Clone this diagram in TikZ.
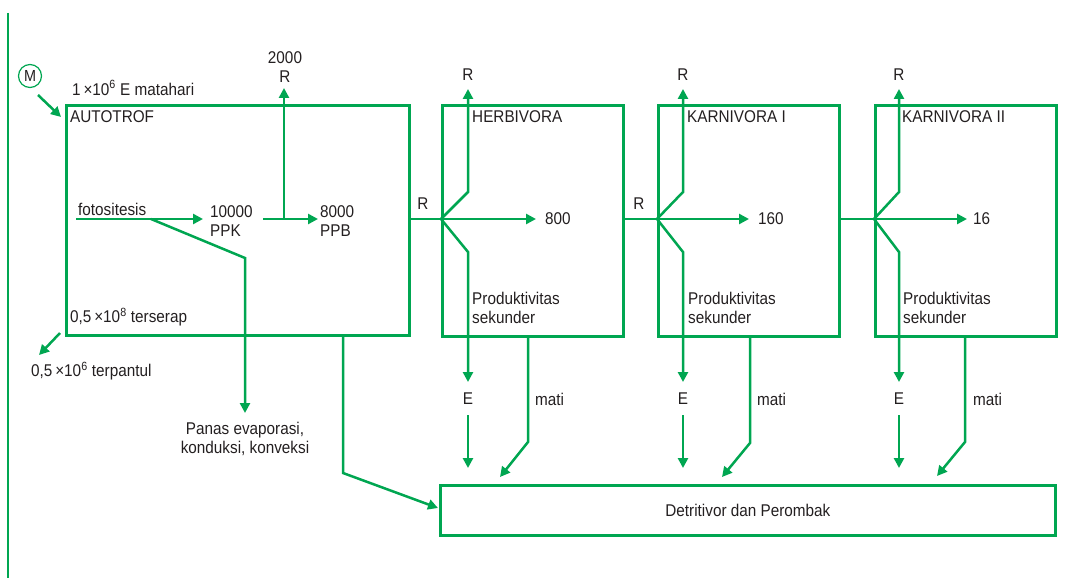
\documentclass[tikz,border=0pt]{standalone}
\usepackage{fontspec}
\setmainfont[FakeStretch=0.9]{Liberation Sans}
\usetikzlibrary{arrows.meta}
\definecolor{eg}{RGB}{0,166,81}
\definecolor{tx}{RGB}{35,31,32}
\begin{document}
\begin{tikzpicture}[x=1pt,y=-1pt,
  ln/.style={draw=eg, line width=2.5pt},
  arr/.style={ln, -{Triangle[length=10pt,width=10pt]}},
  box/.style={draw=eg, line width=2.8pt, inner sep=0pt, anchor=north west},
  lbl/.style={text=tx, font=\fontsize{17}{19}\selectfont, inner sep=0pt},
  lw/.style={lbl, anchor=west},
  lc/.style={lbl, align=center},
  ll/.style={lbl, align=left, anchor=west}]
\useasboundingbox (0,0) rectangle (1085,578);

% left rule
\coordinate (rt) at (8,13);
\coordinate (rb) at (8,578);
\draw[ln] (rt) -- (rb);

% boxes
\node[box, minimum width=343pt, minimum height=230pt] (auto) at (65,104) {};
\node[box, minimum width=181pt, minimum height=231pt] (herb) at (441,104) {};
\node[box, minimum width=181pt, minimum height=231pt] (kar1) at (657,104) {};
\node[box, minimum width=181pt, minimum height=231pt] (kar2) at (874,104) {};
\node[box, minimum width=615pt, minimum height=50pt] (det) at (439,484) {};
\node[lbl] (detl) at (det.center) {Detritivor dan Perombak};

% sun
\node[circle, draw=eg, line width=1.2pt, minimum size=23pt, inner sep=0pt, text=tx, font=\fontsize{16}{18}\selectfont] (M) at (30,76) {M};
\coordinate (ms) at (38,95);
\coordinate (me) at (61,117);
\draw[arr] (ms) -- (me);

% labels autotrof
\node[lw] (sun) at (72,88) {1\,×10\textsuperscript{6} E matahari};
\node[lw] (autol) at (70,117) {AUTOTROF};
\node[lw] (foto) at (78,209) {fotositesis};
\node[ll] (ppk) at (210,221) {10000\\PPK};
\node[ll] (ppb) at (320,221) {8000\\PPB};
\node[lc] (r0) at (285,67) {2000\\R};
\node[lw] (serap) at (70,317) {0,5\,×10\textsuperscript{8} terserap};
\node[lw] (pantul) at (31,371) {0,5\,×10\textsuperscript{6} terpantul};
\node[lc] (panas) at (245,439) {Panas evaporasi,\\konduksi, konveksi};

\coordinate (ps) at (60,333);
\coordinate (pe) at (39,355);
\draw[arr] (ps) -- (pe);

\coordinate (f0) at (76,219);
\coordinate (f1) at (203,219);
\draw[arr] (f0) -- (f1);
\coordinate (k0) at (263,219);
\coordinate (k1) at (318,219);
\draw[arr] (k0) -- (k1);
\coordinate (kj) at (284,219);
\coordinate (ku) at (284,88);
\draw[arr] (kj) -- (ku);
\coordinate (d0) at (151,219);
\coordinate (d1) at (245,258);
\coordinate (d2) at (245,413);
\draw[arr] (d0) -- (d1) -- (d2);

% autotrof to detritivor
\coordinate (a0) at (343,334);
\coordinate (a1) at (343,473);
\coordinate (a2) at (438,508);
\draw[arr] (a0) -- (a1) -- (a2);

% links between boxes
\coordinate (j0) at (408,219);
\coordinate (j1) at (441,219);
\coordinate (j1b) at (622,219);
\coordinate (j2) at (657,219);
\coordinate (j2b) at (838,219);
\coordinate (j3) at (874,219);
\draw[ln] (j0) -- (j1);
\draw[ln] (j1b) -- (j2);
\draw[ln] (j2b) -- (j3);
\node[lbl] (r1) at (423,204) {R};
\node[lbl] (r2) at (639,204) {R};

% trophic level labels
\node[lw] (herbl) at (472,117) {HERBIVORA};
\node[lw] (kar1l) at (687,117) {KARNIVORA I};
\node[lw] (kar2l) at (902,117) {KARNIVORA II};

% herbivora flows
\coordinate (h1) at (536,219);
\draw[arr] (j1) -- (h1);
\node[lw] (v1) at (545,219) {800};
\coordinate (hu1) at (468,192);
\coordinate (hu2) at (468,89);
\draw[arr] (j1) -- (hu1) -- (hu2);
\node[lbl] (hr) at (468,75) {R};
\coordinate (hd1) at (468,252);
\coordinate (hd2) at (468,382);
\draw[arr] (j1) -- (hd1) -- (hd2);
\node[ll] (hp) at (472,308) {Produktivitas\\sekunder};
\node[lbl] (he) at (468,399) {E};
\coordinate (he1) at (468,415);
\coordinate (he2) at (468,468);
\draw[arr] (he1) -- (he2);
\coordinate (hm0) at (528,335);
\coordinate (hm1) at (528,442);
\coordinate (hm2) at (500,477);
\draw[arr] (hm0) -- (hm1) -- (hm2);
\node[lw] (hml) at (535,399) {mati};

% karnivora I flows
\coordinate (c1) at (749,219);
\draw[arr] (j2) -- (c1);
\node[lw] (v2) at (758,219) {160};
\coordinate (cu1) at (683,192);
\coordinate (cu2) at (683,89);
\draw[arr] (j2) -- (cu1) -- (cu2);
\node[lbl] (cr) at (683,75) {R};
\coordinate (cd1) at (683,252);
\coordinate (cd2) at (683,382);
\draw[arr] (j2) -- (cd1) -- (cd2);
\node[ll] (cp) at (688,308) {Produktivitas\\sekunder};
\node[lbl] (ce) at (683,399) {E};
\coordinate (ce1) at (683,415);
\coordinate (ce2) at (683,468);
\draw[arr] (ce1) -- (ce2);
\coordinate (cm0) at (750,335);
\coordinate (cm1) at (750,443);
\coordinate (cm2) at (722,477);
\draw[arr] (cm0) -- (cm1) -- (cm2);
\node[lw] (cml) at (757,399) {mati};

% karnivora II flows
\coordinate (g1) at (967,219);
\draw[arr] (j3) -- (g1);
\node[lw] (v3) at (973,219) {16};
\coordinate (gu1) at (899,192);
\coordinate (gu2) at (899,89);
\draw[arr] (j3) -- (gu1) -- (gu2);
\node[lbl] (gr) at (899,75) {R};
\coordinate (gd1) at (899,252);
\coordinate (gd2) at (899,382);
\draw[arr] (j3) -- (gd1) -- (gd2);
\node[ll] (gp) at (903,308) {Produktivitas\\sekunder};
\node[lbl] (ge) at (899,399) {E};
\coordinate (ge1) at (899,415);
\coordinate (ge2) at (899,468);
\draw[arr] (ge1) -- (ge2);
\coordinate (gm0) at (965,335);
\coordinate (gm1) at (965,442);
\coordinate (gm2) at (937,476);
\draw[arr] (gm0) -- (gm1) -- (gm2);
\node[lw] (gml) at (973,399) {mati};
\end{tikzpicture}
\end{document}
